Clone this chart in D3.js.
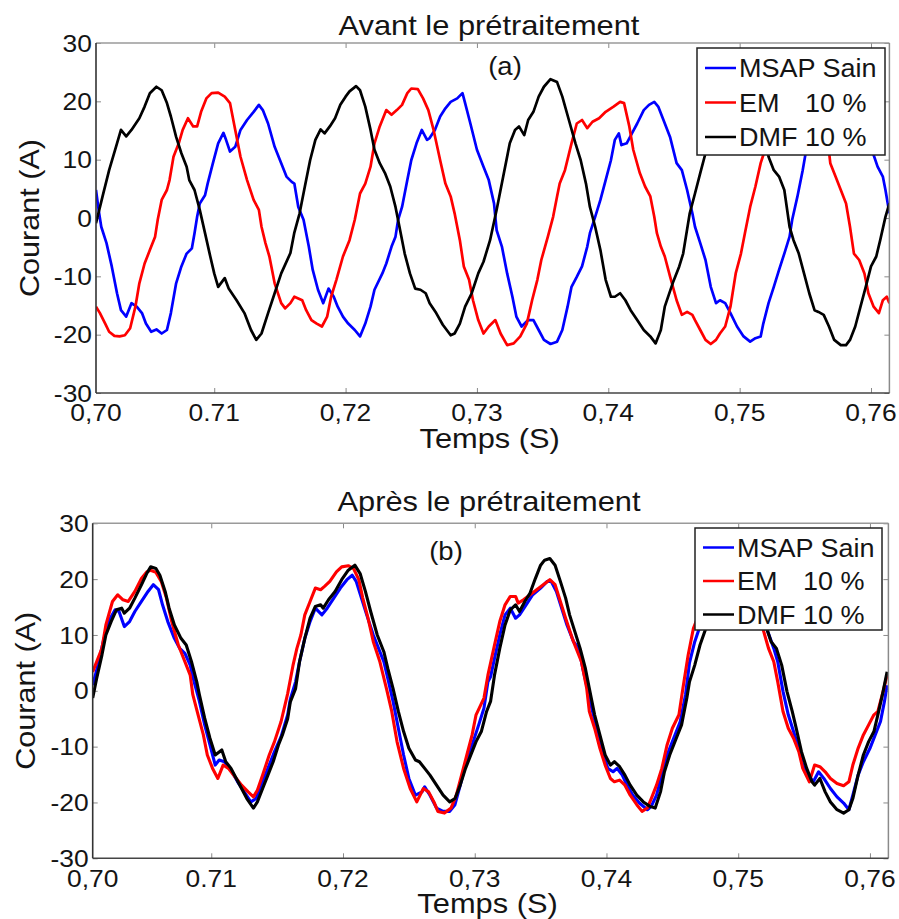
<!DOCTYPE html>
<html><head><meta charset="utf-8">
<script src="https://cdn.jsdelivr.net/npm/d3@7"></script>
<style>
body{margin:0;background:#fff}
text{font-family:"Liberation Sans",Arial,Helvetica,sans-serif;fill:#141414}
</style>
</head><body><svg id="chart" width="899" height="919"></svg>
<script>
// ---------- data ----------
const xTickValues = [0.701, 0.71, 0.72, 0.73, 0.74, 0.75, 0.76];
const xTickLabels = ["0,70", "0.71", "0,72", "0,73", "0,74", "0,75", "0,76"];
const yTickValues = [30, 20, 10, 0, -10, -20, -30];
const seriesNames = [["MSAP Sain", ""], ["EM", "10 %"], ["DMF 10 %", ""]];
const seriesColors = ["#0000ff", "#ff0000", "#000000"];
const titles = ["Avant le prétraitement", "Après le prétraitement"];
const panelTags = ["(a)", "(b)"];
const xLabel = "Temps (S)";
const yLabel = "Courant (A)";

// (a) before preprocessing: [time (s), current (A)]
const msapA = [[0.7010,4.8],[0.7012,1.4],[0.7014,-1.5],[0.7018,-4.3],[0.7022,-8.3],[0.7026,-12.9],[0.7029,-15.8],[0.7033,-16.9],[0.7037,-14.6],[0.7041,-15.2],[0.7045,-16.3],[0.7048,-18.1],[0.7052,-19.5],[0.7056,-19.1],[0.7060,-19.8],[0.7064,-19.2],[0.7067,-16.3],[0.7071,-11.2],[0.7075,-8.3],[0.7079,-6.1],[0.7083,-5.2],[0.7085,-2.6],[0.7087,0.2],[0.7089,2.5],[0.7093,3.9],[0.7095,5.9],[0.7099,9.4],[0.7103,12.8],[0.7107,14.6],[0.7109,13.4],[0.7112,11.4],[0.7116,12.2],[0.7120,15.1],[0.7125,16.8],[0.7130,18.2],[0.7134,19.4],[0.7137,18.5],[0.7141,16.2],[0.7146,12.2],[0.7151,9.4],[0.7155,7.1],[0.7159,6.2],[0.7161,5.9],[0.7164,1.9],[0.7168,-0.3],[0.7172,-4.9],[0.7175,-8.9],[0.7179,-12.3],[0.7183,-14.6],[0.7187,-12.1],[0.7191,-13.5],[0.7194,-15.2],[0.7198,-16.9],[0.7202,-18.1],[0.7207,-19.2],[0.7211,-20.3],[0.7215,-18.1],[0.7219,-15.2],[0.7222,-12.3],[0.7228,-9.5],[0.7231,-7.8],[0.7235,-4.9],[0.7238,-3.2],[0.7240,-0.3],[0.7243,1.9],[0.7247,6.5],[0.7250,9.9],[0.7254,12.8],[0.7258,15.1],[0.7262,13.4],[0.7264,13.7],[0.7268,15.1],[0.7272,17.4],[0.7276,18.8],[0.7280,19.9],[0.7285,20.5],[0.7289,21.4],[0.7291,19.7],[0.7295,16.2],[0.7300,11.7],[0.7305,8.8],[0.7309,6.5],[0.7313,2.5],[0.7315,-2.1],[0.7319,-4.9],[0.7323,-9.5],[0.7327,-13.5],[0.7330,-16.9],[0.7334,-18.6],[0.7339,-17.5],[0.7343,-17.5],[0.7347,-19.2],[0.7351,-20.9],[0.7356,-21.6],[0.7361,-21.2],[0.7365,-19.2],[0.7369,-15.2],[0.7372,-11.8],[0.7376,-10.1],[0.7380,-8.3],[0.7384,-4.9],[0.7386,-2.6],[0.7390,0.2],[0.7394,3.1],[0.7398,6.5],[0.7402,9.9],[0.7405,13.4],[0.7408,14.5],[0.7410,12.5],[0.7414,12.8],[0.7418,14.5],[0.7422,16.2],[0.7427,18.5],[0.7431,19.4],[0.7435,19.9],[0.7438,19.1],[0.7442,16.8],[0.7447,13.9],[0.7452,9.4],[0.7456,8.2],[0.7460,4.8],[0.7464,0.8],[0.7466,-1.5],[0.7470,-4.3],[0.7474,-7.2],[0.7478,-11.8],[0.7482,-14.6],[0.7485,-14.1],[0.7489,-14.6],[0.7493,-16.3],[0.7498,-18.6],[0.7503,-20.3],[0.7508,-21.2],[0.7512,-20.6],[0.7516,-20.3],[0.7518,-18.1],[0.7522,-14.6],[0.7526,-11.8],[0.7530,-8.9],[0.7534,-6.1],[0.7538,-3.2],[0.7540,-0.3],[0.7544,3.7],[0.7548,8.2],[0.7550,10.8],[0.7554,13.4],[0.7560,14.5],[0.7564,13.4],[0.7569,14.5],[0.7577,17.4],[0.7584,19.1],[0.7588,19.4],[0.7593,17.4],[0.7598,13.4],[0.7602,10.8],[0.7605,8.8],[0.7609,7.1],[0.7611,4.8],[0.7614,0.8]];
const emA = [[0.7010,-15.2],[0.7013,-16.3],[0.7017,-18.1],[0.7020,-19.5],[0.7024,-20.2],[0.7028,-20.3],[0.7032,-20.1],[0.7036,-18.9],[0.7040,-15.2],[0.7043,-11.2],[0.7047,-7.8],[0.7051,-5.5],[0.7055,-3.2],[0.7057,-0.3],[0.7060,3.1],[0.7064,4.8],[0.7066,6.5],[0.7069,10.5],[0.7073,12.8],[0.7076,15.1],[0.7080,17.1],[0.7084,15.7],[0.7087,15.7],[0.7090,18.2],[0.7094,20.5],[0.7098,21.4],[0.7103,21.5],[0.7108,20.8],[0.7112,19.7],[0.7116,15.1],[0.7120,10.5],[0.7125,6.5],[0.7130,3.1],[0.7134,1.4],[0.7136,-1.5],[0.7139,-4.3],[0.7142,-6.6],[0.7146,-11.2],[0.7151,-14.6],[0.7154,-15.5],[0.7158,-14.6],[0.7161,-13.5],[0.7167,-14.1],[0.7170,-15.8],[0.7174,-17.5],[0.7178,-18.1],[0.7182,-18.6],[0.7186,-16.9],[0.7189,-13.5],[0.7193,-10.6],[0.7198,-6.6],[0.7203,-3.8],[0.7207,-0.3],[0.7211,4.2],[0.7215,5.9],[0.7219,8.8],[0.7222,12.8],[0.7226,15.7],[0.7231,18.5],[0.7235,17.7],[0.7239,18.5],[0.7243,19.4],[0.7247,21.4],[0.7250,22.2],[0.7255,22.1],[0.7259,20.5],[0.7263,18.5],[0.7267,15.1],[0.7272,9.9],[0.7276,5.9],[0.7280,3.7],[0.7283,0.8],[0.7287,-3.8],[0.7290,-8.3],[0.7294,-10.6],[0.7297,-14.1],[0.7301,-17.5],[0.7305,-19.8],[0.7309,-18.6],[0.7314,-17.5],[0.7318,-19.8],[0.7323,-21.8],[0.7328,-21.5],[0.7333,-20.3],[0.7338,-18.1],[0.7342,-14.1],[0.7346,-10.6],[0.7349,-7.2],[0.7354,-3.2],[0.7358,0.2],[0.7361,3.7],[0.7363,5.9],[0.7367,8.2],[0.7372,12.8],[0.7376,16.2],[0.7380,16.8],[0.7384,15.4],[0.7388,16.5],[0.7393,17.1],[0.7398,18.2],[0.7404,19.1],[0.7409,19.9],[0.7412,19.7],[0.7416,15.7],[0.7419,11.7],[0.7424,7.7],[0.7428,5.4],[0.7432,3.7],[0.7435,0.2],[0.7437,-2.6],[0.7440,-4.9],[0.7443,-6.6],[0.7447,-10.0],[0.7452,-14.1],[0.7456,-16.6],[0.7460,-16.1],[0.7464,-16.6],[0.7466,-17.5],[0.7470,-19.2],[0.7474,-20.9],[0.7478,-21.6],[0.7482,-20.9],[0.7485,-19.8],[0.7489,-18.6],[0.7493,-15.2],[0.7497,-9.5],[0.7501,-6.1],[0.7504,-2.6],[0.7508,1.9],[0.7512,5.4],[0.7516,9.4],[0.7518,10.8],[0.7523,14.0],[0.7531,15.7],[0.7539,16.8],[0.7549,18.2],[0.7559,19.7],[0.7563,19.4],[0.7567,13.4],[0.7569,9.4],[0.7573,7.1],[0.7577,4.8],[0.7581,2.5],[0.7584,-1.5],[0.7587,-6.1],[0.7591,-7.2],[0.7595,-9.5],[0.7598,-12.9],[0.7602,-15.2],[0.7606,-16.3],[0.7609,-14.1],[0.7612,-13.5],[0.7614,-14.6]];
const dmfA = [[0.7010,-0.9],[0.7015,3.7],[0.7020,8.2],[0.7026,12.8],[0.7029,15.1],[0.7033,14.0],[0.7037,15.1],[0.7043,17.1],[0.7047,19.1],[0.7051,21.4],[0.7056,22.5],[0.7060,21.9],[0.7064,19.7],[0.7067,17.4],[0.7071,13.9],[0.7075,11.1],[0.7079,8.8],[0.7081,6.5],[0.7085,4.8],[0.7089,1.4],[0.7093,-2.6],[0.7097,-6.6],[0.7100,-9.5],[0.7103,-11.8],[0.7106,-10.9],[0.7108,-10.3],[0.7111,-12.1],[0.7117,-14.1],[0.7123,-16.3],[0.7128,-19.2],[0.7132,-20.9],[0.7136,-19.8],[0.7141,-16.3],[0.7146,-12.9],[0.7151,-9.5],[0.7158,-6.0],[0.7161,-2.5],[0.7165,0.8],[0.7169,5.4],[0.7173,9.9],[0.7177,13.4],[0.7181,15.2],[0.7184,14.5],[0.7188,15.7],[0.7192,17.1],[0.7196,19.4],[0.7200,20.8],[0.7203,21.7],[0.7208,22.6],[0.7211,21.9],[0.7215,19.1],[0.7219,15.1],[0.7222,11.7],[0.7226,9.4],[0.7230,7.7],[0.7234,5.4],[0.7238,1.9],[0.7241,-1.5],[0.7245,-6.1],[0.7249,-9.5],[0.7253,-12.1],[0.7257,-12.3],[0.7261,-12.9],[0.7264,-14.6],[0.7269,-16.3],[0.7274,-18.3],[0.7280,-20.1],[0.7283,-19.8],[0.7287,-18.1],[0.7291,-15.2],[0.7296,-12.9],[0.7301,-9.5],[0.7305,-7.5],[0.7310,-3.8],[0.7315,1.4],[0.7320,7.1],[0.7325,12.8],[0.7329,15.1],[0.7332,15.7],[0.7336,14.2],[0.7339,16.8],[0.7343,18.2],[0.7347,20.8],[0.7351,22.5],[0.7356,23.8],[0.7361,23.3],[0.7365,20.8],[0.7370,16.8],[0.7375,12.8],[0.7379,9.9],[0.7383,5.9],[0.7386,1.9],[0.7390,-1.5],[0.7394,-5.5],[0.7398,-10.6],[0.7402,-13.5],[0.7405,-13.5],[0.7409,-12.9],[0.7413,-14.1],[0.7417,-15.8],[0.7422,-17.5],[0.7427,-19.2],[0.7432,-20.3],[0.7436,-21.5],[0.7440,-19.2],[0.7443,-15.2],[0.7449,-11.2],[0.7454,-8.3],[0.7457,-6.1],[0.7462,0.8],[0.7466,4.2],[0.7470,7.7],[0.7474,11.1],[0.7480,15.1],[0.7487,16.8],[0.7496,20.2],[0.7504,22.5],[0.7510,21.9],[0.7516,16.2],[0.7522,10.5],[0.7526,8.2],[0.7530,7.1],[0.7534,4.8],[0.7538,-1.5],[0.7541,-3.8],[0.7545,-6.1],[0.7549,-9.5],[0.7553,-12.9],[0.7557,-15.8],[0.7560,-16.1],[0.7564,-16.6],[0.7568,-18.6],[0.7572,-20.9],[0.7577,-21.8],[0.7581,-21.8],[0.7584,-20.9],[0.7588,-18.6],[0.7592,-15.2],[0.7596,-11.8],[0.7600,-8.3],[0.7604,-6.6],[0.7607,-3.8],[0.7611,0.2],[0.7614,2.5]];

// (b) after preprocessing
const msapB = [[0.7010,1.0],[0.7014,4.6],[0.7018,8.8],[0.7022,12.4],[0.7027,14.5],[0.7030,14.2],[0.7034,11.5],[0.7038,12.4],[0.7042,14.2],[0.7047,16.0],[0.7052,17.8],[0.7056,19.0],[0.7060,18.1],[0.7063,15.4],[0.7067,12.4],[0.7072,9.4],[0.7076,7.6],[0.7080,6.7],[0.7084,4.6],[0.7087,1.6],[0.7091,-1.9],[0.7095,-6.1],[0.7099,-9.7],[0.7103,-13.3],[0.7106,-12.4],[0.7110,-12.7],[0.7115,-14.2],[0.7120,-16.3],[0.7125,-18.1],[0.7130,-19.9],[0.7134,-19.3],[0.7138,-16.9],[0.7143,-13.9],[0.7148,-10.9],[0.7153,-8.2],[0.7158,-4.3],[0.7160,-1.5],[0.7164,1.6],[0.7167,5.2],[0.7171,9.4],[0.7175,12.4],[0.7179,14.8],[0.7184,13.6],[0.7188,14.8],[0.7193,16.6],[0.7198,18.4],[0.7203,19.9],[0.7207,20.7],[0.7210,19.6],[0.7214,16.6],[0.7218,13.6],[0.7223,10.0],[0.7227,7.6],[0.7231,5.2],[0.7234,2.2],[0.7238,-1.9],[0.7242,-6.7],[0.7246,-11.5],[0.7250,-15.7],[0.7255,-18.7],[0.7260,-18.1],[0.7262,-17.2],[0.7266,-18.7],[0.7271,-21.0],[0.7276,-21.6],[0.7281,-21.6],[0.7285,-20.4],[0.7289,-16.9],[0.7293,-13.3],[0.7298,-9.7],[0.7303,-6.1],[0.7307,-3.1],[0.7310,1.6],[0.7312,2.5],[0.7315,5.8],[0.7319,10.0],[0.7323,13.6],[0.7327,14.8],[0.7331,13.0],[0.7334,13.6],[0.7339,15.4],[0.7344,17.2],[0.7350,18.4],[0.7355,19.6],[0.7358,19.6],[0.7362,17.8],[0.7366,14.8],[0.7370,11.8],[0.7375,8.8],[0.7379,7.6],[0.7382,4.0],[0.7386,-0.1],[0.7390,-4.3],[0.7394,-7.9],[0.7398,-11.5],[0.7401,-13.9],[0.7405,-14.5],[0.7408,-13.9],[0.7412,-15.1],[0.7415,-16.6],[0.7420,-18.7],[0.7425,-20.1],[0.7431,-21.3],[0.7434,-20.7],[0.7438,-18.7],[0.7442,-15.1],[0.7446,-11.5],[0.7451,-8.5],[0.7456,-5.5],[0.7460,-0.7],[0.7463,5.0],[0.7467,8.8],[0.7470,10.9],[0.7479,14.2],[0.7486,14.8],[0.7496,18.4],[0.7504,20.2],[0.7510,19.6],[0.7518,14.2],[0.7522,10.9],[0.7527,7.6],[0.7530,5.2],[0.7534,-0.1],[0.7538,-4.3],[0.7542,-7.3],[0.7546,-10.3],[0.7549,-13.3],[0.7553,-15.1],[0.7557,-16.3],[0.7561,-14.5],[0.7565,-15.7],[0.7570,-17.5],[0.7575,-19.0],[0.7580,-20.1],[0.7584,-21.3],[0.7587,-18.7],[0.7591,-15.1],[0.7595,-12.7],[0.7600,-10.3],[0.7604,-7.9],[0.7608,-5.5],[0.7611,-1.9],[0.7613,1.0]];
const emB = [[0.7010,3.4],[0.7013,5.2],[0.7017,7.6],[0.7020,11.8],[0.7025,16.0],[0.7029,17.2],[0.7033,16.3],[0.7037,16.0],[0.7042,17.8],[0.7047,20.1],[0.7051,21.3],[0.7054,21.6],[0.7058,21.2],[0.7062,19.6],[0.7066,16.6],[0.7070,12.4],[0.7075,8.2],[0.7080,5.2],[0.7084,2.8],[0.7086,-0.7],[0.7090,-4.3],[0.7094,-7.9],[0.7097,-11.5],[0.7101,-13.9],[0.7105,-15.7],[0.7109,-13.3],[0.7113,-13.9],[0.7118,-15.4],[0.7123,-16.9],[0.7128,-18.1],[0.7132,-19.0],[0.7135,-17.8],[0.7139,-15.1],[0.7144,-11.5],[0.7148,-9.1],[0.7153,-5.5],[0.7158,-0.5],[0.7162,4.5],[0.7165,7.6],[0.7168,10.0],[0.7171,13.6],[0.7175,16.0],[0.7179,18.4],[0.7183,18.1],[0.7186,18.7],[0.7190,19.6],[0.7195,21.3],[0.7199,22.2],[0.7204,22.4],[0.7208,21.9],[0.7212,19.9],[0.7215,16.6],[0.7219,13.0],[0.7223,8.8],[0.7228,5.2],[0.7233,0.4],[0.7237,-3.7],[0.7241,-9.1],[0.7246,-13.9],[0.7251,-17.5],[0.7256,-19.9],[0.7261,-17.5],[0.7265,-18.1],[0.7269,-19.9],[0.7272,-21.6],[0.7277,-21.9],[0.7282,-21.0],[0.7286,-18.7],[0.7290,-15.1],[0.7294,-11.5],[0.7298,-7.9],[0.7301,-4.3],[0.7307,-1.3],[0.7310,2.8],[0.7315,8.2],[0.7319,12.4],[0.7323,15.4],[0.7327,16.9],[0.7331,16.9],[0.7333,15.7],[0.7337,16.3],[0.7342,17.2],[0.7347,18.1],[0.7352,19.0],[0.7357,19.9],[0.7361,19.0],[0.7365,16.0],[0.7369,13.0],[0.7374,9.4],[0.7377,7.6],[0.7381,5.2],[0.7385,0.4],[0.7387,-3.7],[0.7391,-6.7],[0.7395,-10.3],[0.7399,-13.3],[0.7403,-15.7],[0.7406,-16.3],[0.7410,-16.0],[0.7414,-16.9],[0.7418,-18.7],[0.7423,-20.4],[0.7427,-21.6],[0.7431,-21.0],[0.7434,-19.3],[0.7438,-16.9],[0.7442,-13.9],[0.7446,-9.7],[0.7450,-6.7],[0.7455,-4.3],[0.7458,0.4],[0.7462,6.4],[0.7466,11.2],[0.7471,14.2],[0.7479,16.6],[0.7489,18.4],[0.7499,20.2],[0.7506,20.7],[0.7514,16.0],[0.7519,10.9],[0.7523,7.6],[0.7527,5.2],[0.7530,1.6],[0.7534,-3.7],[0.7538,-6.7],[0.7542,-8.5],[0.7546,-10.9],[0.7549,-13.9],[0.7554,-16.3],[0.7558,-13.3],[0.7562,-13.6],[0.7566,-14.5],[0.7570,-15.7],[0.7575,-16.6],[0.7580,-17.0],[0.7584,-16.3],[0.7587,-13.3],[0.7591,-10.3],[0.7595,-7.9],[0.7599,-6.1],[0.7603,-4.3],[0.7606,-3.7],[0.7610,-0.1],[0.7613,2.8]];
const dmfB = [[0.7010,-1.3],[0.7013,2.2],[0.7017,6.4],[0.7020,10.0],[0.7024,12.4],[0.7028,14.5],[0.7032,14.8],[0.7034,13.9],[0.7038,14.8],[0.7042,16.6],[0.7047,19.0],[0.7051,21.0],[0.7054,22.2],[0.7058,21.9],[0.7061,20.7],[0.7065,17.8],[0.7068,14.8],[0.7072,11.8],[0.7077,9.4],[0.7081,8.2],[0.7085,5.2],[0.7089,1.6],[0.7091,-0.7],[0.7095,-4.9],[0.7099,-8.5],[0.7103,-11.5],[0.7108,-10.6],[0.7111,-12.7],[0.7115,-13.9],[0.7119,-15.7],[0.7123,-17.5],[0.7127,-19.3],[0.7132,-21.0],[0.7135,-19.9],[0.7139,-17.5],[0.7143,-15.1],[0.7147,-12.7],[0.7151,-9.7],[0.7154,-7.9],[0.7158,-5.0],[0.7160,-2.0],[0.7164,0.4],[0.7167,5.2],[0.7171,9.4],[0.7175,13.0],[0.7179,15.1],[0.7183,15.4],[0.7185,14.8],[0.7189,16.3],[0.7194,17.8],[0.7199,19.9],[0.7204,21.6],[0.7209,22.5],[0.7213,21.0],[0.7217,17.8],[0.7221,14.2],[0.7226,10.0],[0.7231,7.0],[0.7234,4.0],[0.7238,0.4],[0.7242,-3.7],[0.7246,-7.3],[0.7250,-10.3],[0.7255,-12.4],[0.7258,-12.7],[0.7262,-13.9],[0.7266,-15.1],[0.7271,-16.9],[0.7276,-18.7],[0.7281,-19.9],[0.7285,-19.3],[0.7289,-16.9],[0.7293,-13.9],[0.7298,-10.9],[0.7301,-9.1],[0.7305,-7.3],[0.7309,-3.7],[0.7312,-1.9],[0.7315,2.8],[0.7319,7.6],[0.7323,11.8],[0.7327,14.5],[0.7331,15.4],[0.7334,14.2],[0.7338,16.0],[0.7342,17.5],[0.7346,20.1],[0.7350,22.5],[0.7353,23.4],[0.7357,23.7],[0.7361,22.5],[0.7365,19.6],[0.7369,16.6],[0.7372,13.6],[0.7376,10.6],[0.7380,7.6],[0.7384,4.0],[0.7387,0.4],[0.7391,-4.3],[0.7395,-7.9],[0.7399,-11.5],[0.7403,-13.3],[0.7406,-12.7],[0.7410,-13.6],[0.7414,-15.1],[0.7418,-16.9],[0.7423,-18.7],[0.7428,-19.9],[0.7433,-20.7],[0.7437,-21.0],[0.7441,-18.1],[0.7444,-14.5],[0.7448,-11.5],[0.7453,-8.5],[0.7457,-6.1],[0.7461,-1.3],[0.7463,1.6],[0.7467,4.6],[0.7471,8.2],[0.7475,10.9],[0.7481,14.2],[0.7489,16.0],[0.7499,21.3],[0.7504,22.0],[0.7509,20.2],[0.7517,14.2],[0.7522,10.9],[0.7525,8.8],[0.7529,7.6],[0.7533,4.6],[0.7537,-0.1],[0.7541,-3.7],[0.7544,-6.7],[0.7548,-10.9],[0.7552,-13.9],[0.7556,-16.3],[0.7558,-16.9],[0.7562,-15.7],[0.7566,-18.1],[0.7570,-19.9],[0.7575,-21.3],[0.7580,-21.9],[0.7584,-21.3],[0.7587,-19.3],[0.7591,-15.1],[0.7595,-11.5],[0.7599,-9.1],[0.7603,-7.3],[0.7606,-4.3],[0.7610,-0.1],[0.7613,3.4]];

const xDomain = [0.701, 0.7614];
const yDomain = [-30, 30];

// ---------- drawing ----------
const svg = d3.select("#chart");
const SX = 1.1; // horizontal text stretch of the original picture

function stretch(sel, f) {
  sel.each(function () {
    const w = this.getComputedTextLength();
    d3.select(this).attr("textLength", w * f).attr("lengthAdjust", "spacingAndGlyphs");
  });
}

function drawPanel(p) {
  const x = d3.scaleLinear().domain(xDomain).range([p.left, p.right]);
  const y = d3.scaleLinear().domain(yDomain).range([p.bottom, p.top]);
  const g = svg.append("g");
  const clipId = "clip" + p.idx;
  g.append("clipPath").attr("id", clipId).append("rect")
    .attr("x", p.left).attr("y", p.top)
    .attr("width", p.right - p.left).attr("height", p.bottom - p.top);

  // inward ticks on four sides
  const innerX = xTickValues.slice(1);
  const tickCol = "#8a8a8a";
  g.append("g").attr("transform", `translate(0,${p.bottom})`)
    .call(d3.axisBottom(x).tickValues(innerX).tickSize(-5).tickFormat(""))
    .call(a => a.select(".domain").remove())
    .selectAll("line").attr("stroke", tickCol);
  g.append("g").attr("transform", `translate(0,${p.top})`)
    .call(d3.axisTop(x).tickValues(innerX).tickSize(-5).tickFormat(""))
    .call(a => a.select(".domain").remove())
    .selectAll("line").attr("stroke", tickCol);
  g.append("g").attr("transform", `translate(${p.left},0)`)
    .call(d3.axisLeft(y).tickValues(yTickValues).tickSize(-5).tickFormat(""))
    .call(a => a.select(".domain").remove())
    .selectAll("line").attr("stroke", tickCol);
  g.append("g").attr("transform", `translate(${p.right},0)`)
    .call(d3.axisRight(y).tickValues(yTickValues).tickSize(-5).tickFormat(""))
    .call(a => a.select(".domain").remove())
    .selectAll("line").attr("stroke", tickCol);

  // curves
  const line = d3.line().x(d => x(d[0])).y(d => y(d[1]));
  const lg = g.append("g").attr("clip-path", `url(#${clipId})`);
  p.series.forEach((s, i) => {
    lg.append("path").datum(s).attr("d", line)
      .attr("fill", "none").attr("stroke", seriesColors[i])
      .attr("stroke-width", p.lw).attr("stroke-linejoin", "round");
  });

  // box
  g.append("line").attr("x1", p.left).attr("x2", p.right).attr("y1", p.top).attr("y2", p.top)
    .attr("stroke", "#9a9a9a").attr("stroke-width", 1.5);
  g.append("line").attr("x1", p.right).attr("x2", p.right).attr("y1", p.top).attr("y2", p.bottom)
    .attr("stroke", "#8a8a8a").attr("stroke-width", 1.5);
  g.append("line").attr("x1", p.left).attr("x2", p.right).attr("y1", p.bottom).attr("y2", p.bottom)
    .attr("stroke", "#444").attr("stroke-width", 1.6);
  g.append("line").attr("x1", p.left).attr("x2", p.left).attr("y1", p.top).attr("y2", p.bottom)
    .attr("stroke", "#333").attr("stroke-width", 1.6);

  // tick labels
  g.selectAll(".xl").data(xTickValues).enter().append("text")
    .attr("x", d => x(d)).attr("y", p.xTickY).attr("text-anchor", "middle")
    .attr("font-size", 24).text((d, i) => xTickLabels[i]).call(stretch, SX);
  g.selectAll(".yl").data(yTickValues).enter().append("text")
    .attr("x", p.left - 4).attr("y", d => y(d) + 8.6).attr("text-anchor", "end")
    .attr("font-size", 24).text(d => String(d)).call(stretch, SX);

  // titles and labels
  g.append("text").attr("x", p.titleX).attr("y", p.titleY).attr("text-anchor", "middle")
    .attr("font-size", 28).text(titles[p.idx]).call(stretch, SX);
  g.append("text").attr("x", p.tagX).attr("y", p.tagY).attr("text-anchor", "middle")
    .attr("font-size", 25).text(panelTags[p.idx]).call(stretch, SX);
  g.append("text").attr("x", (p.left + p.right) / 2 - 3).attr("y", p.xLabY).attr("text-anchor", "middle")
    .attr("font-size", 28).text(xLabel).call(stretch, SX);
  g.append("text").attr("transform", `translate(${p.yLabX},${(p.top + p.bottom) / 2}) rotate(-90)`)
    .attr("text-anchor", "middle").attr("font-size", 28).text(yLabel)
    .attr("textLength", 158).attr("lengthAdjust", "spacingAndGlyphs");

  // legend
  const L = p.legend;
  g.append("rect").attr("x", L.x).attr("y", L.y).attr("width", L.w).attr("height", L.h)
    .attr("fill", "#fff").attr("stroke", "#222").attr("stroke-width", 1.5);
  seriesNames.forEach((nm, i) => {
    const cy = L.y + L.r0 + i * L.dr;
    g.append("line").attr("x1", L.x + 8).attr("x2", L.x + 39).attr("y1", cy).attr("y2", cy)
      .attr("stroke", seriesColors[i]).attr("stroke-width", 2.5);
    g.append("text").attr("x", L.x + 42).attr("y", cy + 9).attr("font-size", 25)
      .text(nm[0]).call(stretch, 1.08);
    if (nm[1]) g.append("text").attr("x", L.x + 108).attr("y", cy + 9).attr("font-size", 25)
      .text(nm[1]).call(stretch, 1.08);
  });
}

drawPanel({idx: 0, left: 96, right: 889.4, top: 43, bottom: 393, lw: 2.7,
  series: [msapA, emA, dmfA], xTickY: 421, titleX: 489, titleY: 35, tagX: 505, tagY: 75,
  xLabY: 448, yLabX: 39, legend: {x: 697, y: 48, w: 188, h: 107, r0: 20, dr: 34.5}});
drawPanel({idx: 1, left: 92.7, right: 888.4, top: 523.3, bottom: 858.3, lw: 3.1,
  series: [msapB, emB, dmfB], xTickY: 887, titleX: 489, titleY: 511, tagX: 446, tagY: 560,
  xLabY: 913, yLabX: 35, legend: {x: 695, y: 528, w: 187, h: 102, r0: 19.5, dr: 33.5}});
</script>
</body></html>
